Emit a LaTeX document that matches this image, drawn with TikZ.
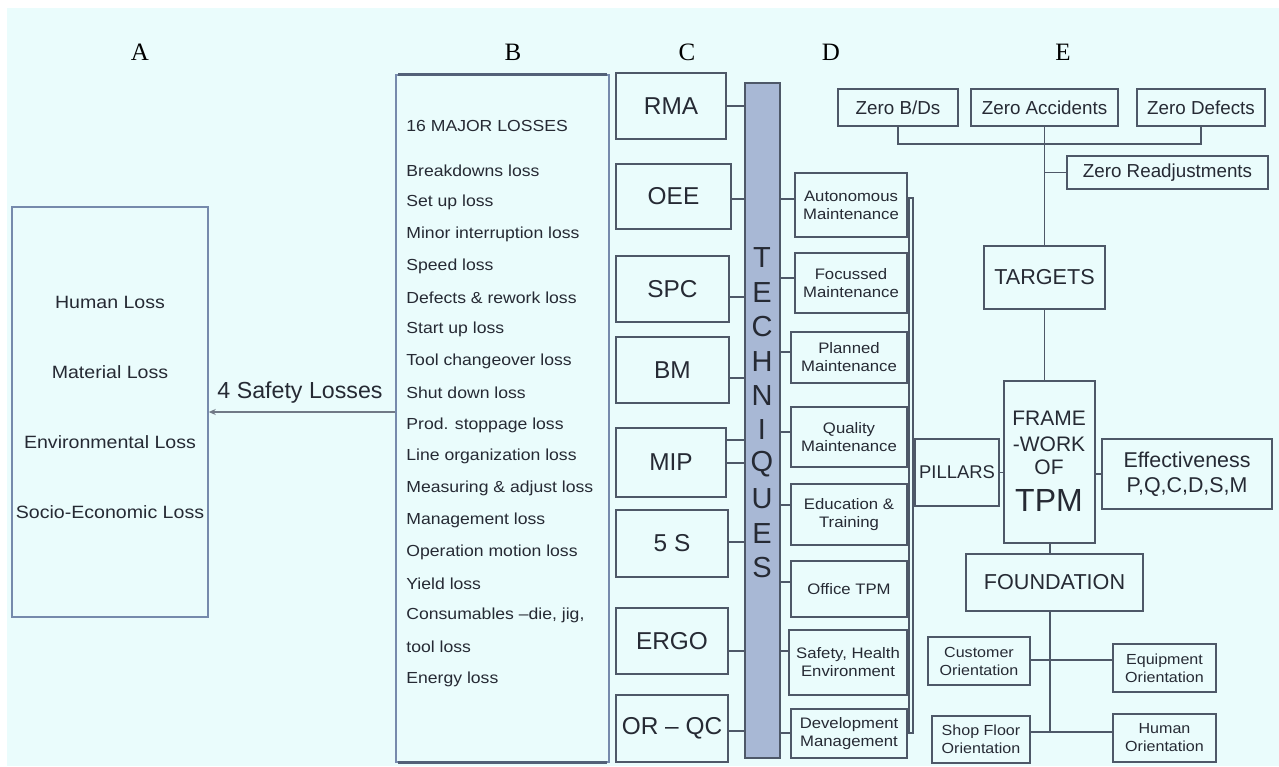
\documentclass[tikz,border=0pt]{standalone}
\usepackage{fontspec}
\setmainfont{Liberation Sans}
\newfontfamily\widesans{Liberation Sans}[FakeStretch=1.1]
\newfontfamily\colserif{Liberation Serif}
\usetikzlibrary{arrows.meta}
\definecolor{bgc}{RGB}{234,252,252}
\definecolor{linec}{RGB}{78,88,104}
\definecolor{framec}{RGB}{118,138,172}
\definecolor{txt}{RGB}{38,42,52}
\definecolor{barc}{RGB}{168,184,213}
\begin{document}
\begin{tikzpicture}[x=0.5pt,y=-0.5pt,
  sz/.style 2 args={minimum width={#1*0.5pt}, minimum height={#2*0.5pt}},
  bx/.style={draw=linec, line width=0.75pt, inner sep=0pt, align=center, text=txt},
  cbox/.style={bx, font=\fontsize{12.2}{14}\selectfont},
  dbox/.style={bx, font=\widesans\fontsize{7.6}{9}\selectfont},
  ebox/.style={bx, font=\fontsize{9.4}{11}\selectfont},
  obox/.style={bx, font=\widesans\fontsize{7.3}{9}\selectfont},
  lossitem/.style={anchor=west, inner sep=0pt, text=txt, font=\widesans\fontsize{8}{9}\selectfont},
  aitem/.style={inner sep=0pt, text=txt, font=\widesans\fontsize{8.9}{10}\selectfont},
  colhead/.style={inner sep=0pt, text=black, font=\colserif\fontsize{12.5}{14}\selectfont},
  plain/.style={inner sep=0pt, text=txt},
  link/.style={draw=linec, line width=0.75pt},
]
% canvas
\useasboundingbox (0,0) rectangle (1279,766);
\fill[white] (0,0) rectangle (1279,766);
\fill[bgc] (7,8) rectangle (1279,766);

% column headings
\node[colhead] (hA) at (140,52) {A};
\node[colhead] (hB) at (513,52) {B};
\node[colhead] (hC) at (687,52) {C};
\node[colhead] (hD) at (831,52) {D};
\node[colhead] (hE) at (1063,52) {E};

% A: safety losses
\node[draw=framec, line width=0.75pt, inner sep=0pt, sz={196}{410}] (abox) at (110,412) {};
\foreach \t/\yy [count=\i] in {Human Loss/302, Material Loss/372, Environmental Loss/442, Socio-Economic Loss/512}
  \node[aitem] (a\i) at (110,\yy) {\t};

% B: major losses
\node[draw=framec, line width=0.75pt, inner sep=0pt, sz={213}{687}] (bbox) at (502.5,418.5) {};
\draw[framec!70!black, line width=1.5pt] ([xshift=1.5pt]bbox.north west) -- ([xshift=-1.5pt]bbox.north east);
\draw[framec!70!black, line width=1.5pt] ([xshift=1.5pt]bbox.south west) -- ([xshift=-1.5pt]bbox.south east);
\node[lossitem] (bhead) at (406,126) {16 MAJOR LOSSES};
\foreach \t [count=\i] in {Breakdowns loss, Set up loss, Minor interruption loss, Speed loss,
  Defects \& rework loss, Start up loss, Tool changeover loss, Shut down loss,
  Prod. stoppage loss, Line organization loss, Measuring \& adjust loss, Management loss,
  Operation motion loss, Yield loss, {Consumables –die, jig,}, tool loss, Energy loss}
  \node[lossitem] (b\i) at (406,{171+(\i-1)*31.75}) {\t};

% B -> A
\coordinate (arry) at (0,412);
\draw[draw=linec!80, line width=0.6pt, -{Stealth[length=3.5pt,width=3pt]}] (bbox.west |- arry) -- (abox.east |- arry);
\node[plain, font=\fontsize{11.6}{13}\selectfont] (safety) at (300,393) {4 Safety Losses};

% C: tools
\node[cbox, sz={110}{66}] (rma) at (671,106) {RMA};
\node[cbox, sz={115}{65}] (oee) at (673.5,196.5) {OEE};
\node[cbox, sz={113}{66}] (spc) at (672.5,289) {SPC};
\node[cbox, sz={113}{66}] (bm) at (672.5,370) {BM};
\node[cbox, sz={110}{69}] (mip) at (671,462.5) {MIP};
\node[cbox, sz={112}{67}] (fives) at (672,543.5) {5 S};
\node[cbox, sz={112}{66}] (ergo) at (672,641) {ERGO};
\node[cbox, sz={112}{67}] (orqc) at (672,728.5) {OR – QC};

% techniques bar
\node[draw=linec, fill=barc, line width=0.75pt, inner sep=0pt, sz={35}{675}] (bar) at (762.5,420.5) {};
\foreach \ch [count=\i] in {T,E,C,H,N,I,Q,U,E,S}
  \node[plain, font=\fontsize{14.5}{16}\selectfont] (t\i) at (762,{258+(\i-1)*34.4}) {\ch};

\foreach \n/\yy in {rma/106, oee/199, spc/297, bm/378, mip/440, mip/463, fives/542, ergo/651, orqc/731}
  \draw[link] (\n.east |- 0,\yy) -- (bar.west |- 0,\yy);

% D: pillars
\node[dbox, sz={112}{64}] (am) at (851,205) {Autonomous\\Maintenance};
\node[dbox, sz={112}{60}] (fm) at (851,283) {Focussed\\Maintenance};
\node[dbox, sz={116}{51}] (pm) at (849,357.5) {Planned\\Maintenance};
\node[dbox, sz={116}{60}] (qm) at (849,437) {Quality\\Maintenance};
\node[dbox, sz={116}{61}] (et) at (849,514.5) {Education \&\\Training};
\node[dbox, sz={116}{56}] (ot) at (849,589) {Office TPM};
\node[dbox, sz={118}{65}] (she) at (848,662.5) {Safety, Health\\Environment};
\node[dbox, sz={116}{49}] (dm) at (849,733.5) {Development\\Management};

\foreach \n/\yy in {am/199, fm/278, pm/352, qm/432, et/505, ot/582, she/651, dm/733}
  \draw[link] (bar.east |- 0,\yy) -- (\n.west |- 0,\yy);

\node[draw=linec, fill=bgc, line width=0.6pt, inner sep=0pt, sz={4}{535}] (spine) at (911,465.5) {};
\foreach \n/\yy in {am/200, fm/270, pm/352, qm/437, et/515, ot/580, she/651, dm/730}
  \draw[link, line width=0.6pt] (\n.east |- 0,\yy) -- (spine.west |- 0,\yy);

% E: framework
\node[ebox, font=\fontsize{9.2}{11}\selectfont, sz={84}{67}] (pil) at (957,472.5) {PILLARS};
\draw[link, line width=0.6pt] (spine.east |- pil.west) -- (pil.west);

\node[bx, sz={91}{162}] (fw) at (1049.5,462) {};
\node[plain, font=\fontsize{10.5}{12}\selectfont] (fw1) at (1049,418) {FRAME};
\node[plain, font=\fontsize{10.5}{12}\selectfont] (fw2) at (1049,444) {-WORK};
\node[plain, font=\fontsize{10.5}{12}\selectfont] (fw3) at (1049,467) {OF};
\node[plain, font=\fontsize{16}{18}\selectfont] (fw4) at (1049,500) {TPM};

\node[bx, font=\fontsize{10.7}{12.5}\selectfont, sz={170}{70}] (eff) at (1187,474) {Effectiveness\\P,Q,C,D,S,M};

\draw[link, line width=0.6pt] (pil.east) -- (fw.west |- pil.east);
\draw[link, line width=0.6pt] (fw.east |- eff.west) -- (eff.west);

\node[ebox, font=\fontsize{10.8}{12}\selectfont, sz={121}{63}] (tgt) at (1044.5,277.5) {TARGETS};

\node[ebox, sz={120}{37}] (zbd) at (898,107.5) {Zero B/Ds};
\node[ebox, sz={147}{37}] (zacc) at (1044.5,107.5) {Zero Accidents};
\node[ebox, sz={128}{37}] (zdef) at (1201,107.5) {Zero Defects};
\node[ebox, sz={201}{33}] (zre) at (1167.5,172.5) {Zero Readjustments};

\coordinate (zy) at (0,144);
\draw[link] (zbd.south) -- (zbd.south |- zy) -- (zdef.south |- zy) -- (zdef.south);
\draw[link] (zacc.south) -- (tgt.north);
\draw[link] (zre.west) -- (zre.west -| zacc.south);
\draw[link] (tgt.south) -- (tgt.south |- fw.north);

\node[ebox, font=\fontsize{10.8}{12}\selectfont, sz={177}{57}] (fnd) at (1054.5,582.5) {FOUNDATION};
\coordinate (stem) at (1050,0);
\coordinate (h1) at (0,660);
\coordinate (h2) at (0,732);
\draw[link] (stem |- fw.south) -- (stem |- fnd.north);
\draw[link] (stem |- fnd.south) -- (stem |- h2);

\node[obox, sz={102}{48}] (cus) at (979,661) {Customer\\Orientation};
\node[obox, sz={103}{48}] (equ) at (1164.5,668) {Equipment\\Orientation};
\node[obox, sz={98}{47}] (sfo) at (981,739.5) {Shop Floor\\Orientation};
\node[obox, sz={103}{48}] (hum) at (1164.5,738) {Human\\Orientation};
\draw[link] (cus.east |- h1) -- (equ.west |- h1);
\draw[link] (sfo.east |- h2) -- (hum.west |- h2);
\end{tikzpicture}
\end{document}
